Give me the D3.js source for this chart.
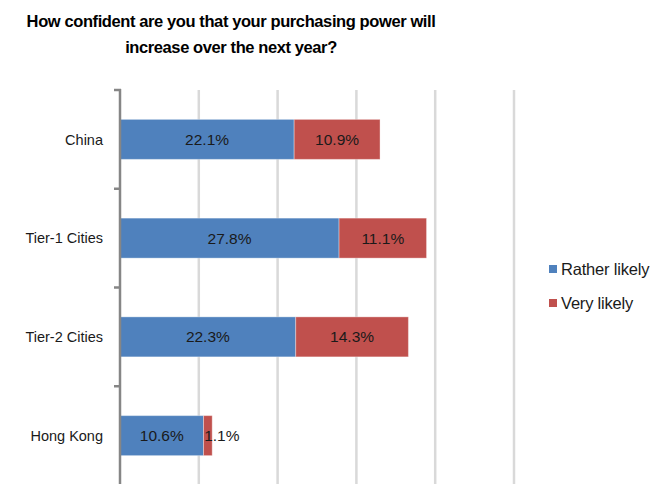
<!DOCTYPE html>
<html><head><meta charset="utf-8">
<script src="https://cdn.jsdelivr.net/npm/d3@7"></script>
<style>body{margin:0;background:#fff}svg{display:block}</style>
</head><body>
<svg id="c" width="664" height="484"></svg>
<script>
const categories = ["China", "Tier-1 Cities", "Tier-2 Cities", "Hong Kong"];
const ratherLikely = [22.1, 27.8, 22.3, 10.6];
const veryLikely = [10.9, 11.1, 14.3, 1.1];
const seriesNames = ["Rather likely", "Very likely"];
const colors = ["#4f81bd", "#c0504d"];
const gridTicks = [10, 20, 30, 40, 50];
const titleLines = ["How confident are you that your purchasing power will", "increase over the next year?"];

const svg = d3.select("#c");
const font = "'Liberation Sans', Arial, sans-serif";
const x = d3.scaleLinear().domain([0, 50]).range([120, 514]);
const y = d3.scaleBand().domain(categories).range([90, 485]).paddingInner(0.595).paddingOuter(0.2975);

// title
svg.append("g").selectAll("text").data(titleLines).join("text")
  .attr("x", 231).attr("y", (d, i) => 27 + i * 26)
  .attr("text-anchor", "middle").attr("font-family", font)
  .attr("font-weight", "bold").attr("font-size", 16.5).attr("fill", "#000")
  .attr("letter-spacing", -0.4)
  .text(d => d);

// gridlines
svg.append("g").selectAll("line").data(gridTicks).join("line")
  .attr("x1", d => x(d)).attr("x2", d => x(d)).attr("y1", 90).attr("y2", 484)
  .attr("stroke", "#d9d9d9").attr("stroke-width", 2.5);

const stacked = categories.map((c, i) => ({c, vals: [ratherLikely[i], veryLikely[i]]}));

stacked.forEach(d => {
  let acc = 0;
  d.vals.forEach((v, j) => {
    const x0 = x(acc), x1 = x(acc + v);
    svg.append("rect").attr("x", x0).attr("y", y(d.c)).attr("width", x1 - x0).attr("height", y.bandwidth())
      .attr("fill", colors[j]).attr("stroke", "rgba(255,255,255,0.35)").attr("stroke-width", 1);
    svg.append("text").attr("x", (x0 + x1) / 2 + (v < 2 ? 14 : 0)).attr("y", y(d.c) + y.bandwidth() / 2 + 5.5)
      .attr("text-anchor", "middle").attr("font-family", font).attr("font-size", 15.5).attr("fill", "#1a1a1a")
      .text(v.toFixed(1) + "%");
    acc += v;
  });
});

// axis
const ax = svg.append("g").attr("transform", "translate(120,0)")
  .call(d3.axisLeft(y).tickSize(0).tickPadding(17));
ax.select(".domain").remove();
ax.selectAll("text").attr("font-family", font).attr("font-size", 14.5).attr("fill", "#1a1a1a").attr("dy", "0.36em");
svg.append("g").selectAll("line").data(categories.slice(0, 3)).join("line")
  .attr("x1", 114).attr("x2", 120)
  .attr("y1", d => y(d) + y.bandwidth() / 2 + y.step() / 2)
  .attr("y2", d => y(d) + y.bandwidth() / 2 + y.step() / 2)
  .attr("stroke", "#868686").attr("stroke-width", 2.5);
svg.append("line").attr("x1", 114).attr("x2", 121).attr("y1", 90).attr("y2", 90).attr("stroke", "#868686").attr("stroke-width", 2.5);
svg.append("line").attr("x1", 120).attr("x2", 120).attr("y1", 89).attr("y2", 484).attr("stroke", "#868686").attr("stroke-width", 2.5);

// legend
const lg = svg.append("g").selectAll("g").data(seriesNames).join("g")
  .attr("transform", (d, i) => `translate(549,${265 + i * 34})`);
lg.append("rect").attr("width", 8).attr("height", 8).attr("fill", (d, i) => colors[i]);
lg.append("text").attr("x", 12).attr("y", 10).attr("font-family", font).attr("font-size", 16.5).attr("fill", "#1a1a1a")
  .attr("letter-spacing", -0.2).text(d => d);
</script>
</body></html>
